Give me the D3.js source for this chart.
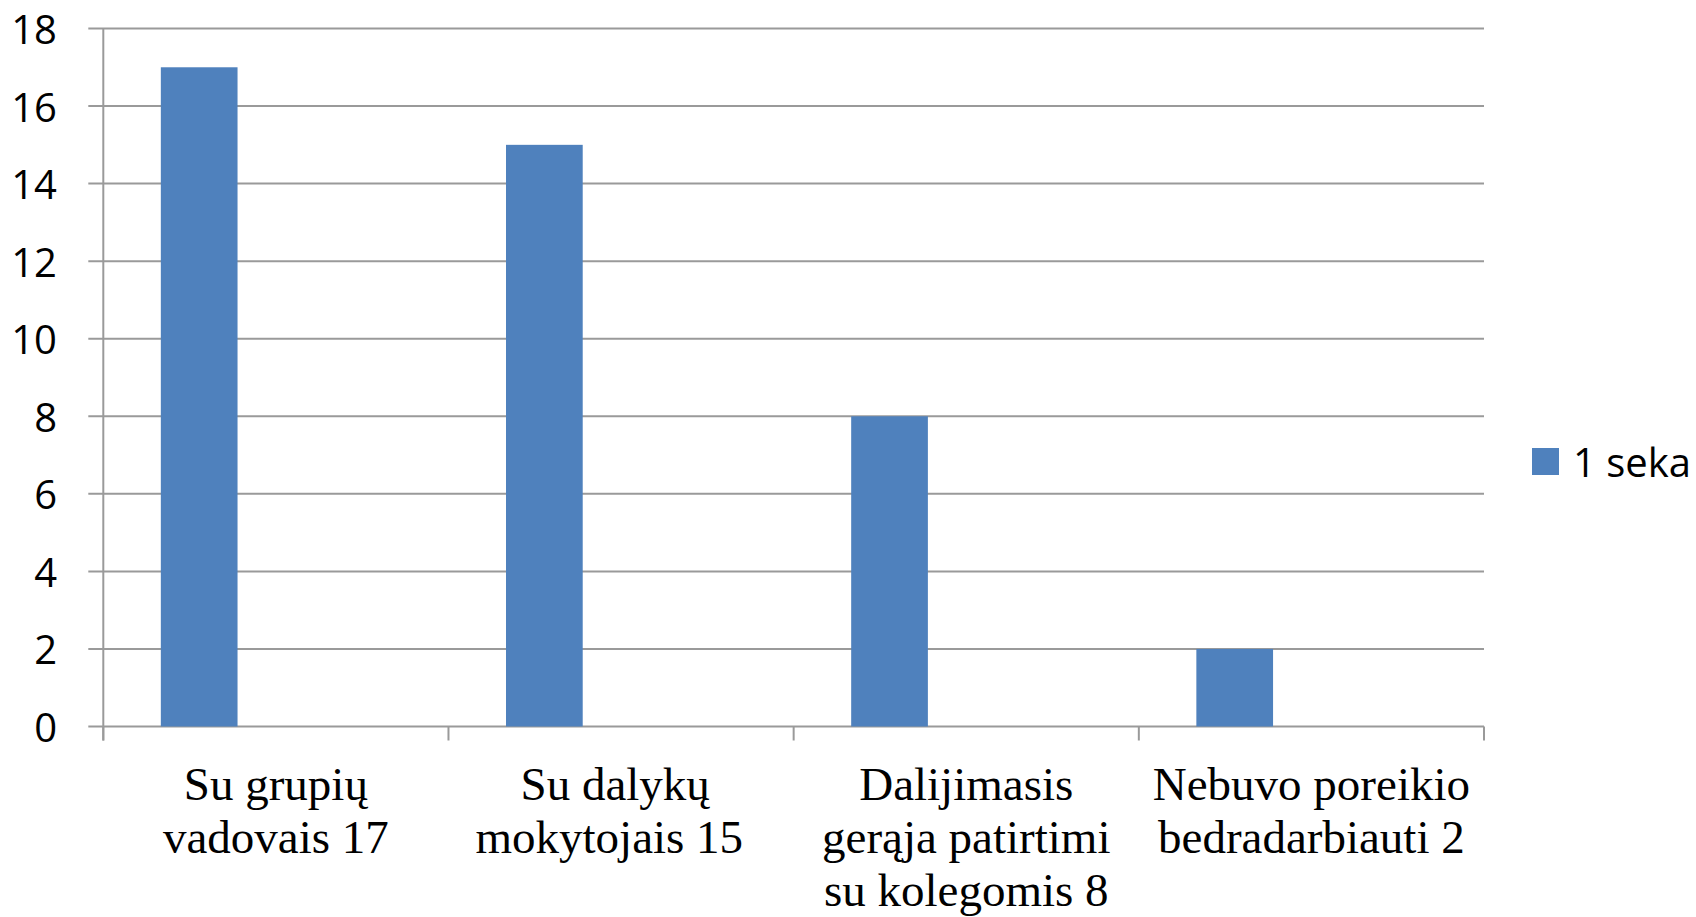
<!DOCTYPE html>
<html>
<head>
<meta charset="utf-8">
<script src="https://cdn.jsdelivr.net/npm/d3@7"></script>
<style>
html,body{margin:0;padding:0;background:#fff;overflow:hidden;}
svg{display:block;}
text{white-space:pre;}
</style>
</head>
<body>
<script>
const categories = [
  ["Su grupių", "vadovais 17"],
  ["Su dalykų ", "mokytojais 15  "],
  ["Dalijimasis", "gerąja patirtimi", "su kolegomis 8"],
  ["Nebuvo poreikio", "bedradarbiauti 2"]
];
const seriesName = "1 seka";
const values = [17, 15, 8, 2];
const yTicks = [0, 2, 4, 6, 8, 10, 12, 14, 16, 18];

(function () {
const W = 1696, H = 917;
const pLeft = 103.3, pRight = 1484, pTop = 28.5, pBottom = 726.5;
const barColor = "#4F81BD", gridColor = "#9A9A9A";

const svg = d3.select("body").append("svg").attr("width", W).attr("height", H);

const x = d3.scaleBand().domain(d3.range(categories.length)).range([pLeft, pRight]).padding(0);
// Excel cluster: 3 slots, gap width 150% -> bar width = band / 4.5
const slot = d3.scaleBand().domain([0, 1, 2]).range([0, x.bandwidth()]).paddingInner(0).paddingOuter(0.75);
const y = d3.scaleLinear().domain([0, 18]).range([pBottom, pTop]);

svg.append("g").selectAll("line").data(yTicks).join("line")
  .attr("x1", pLeft - 15).attr("x2", pRight)
  .attr("y1", d => y(d)).attr("y2", d => y(d))
  .attr("stroke", gridColor).attr("stroke-width", 2);

svg.append("line").attr("x1", pLeft).attr("x2", pLeft).attr("y1", pTop).attr("y2", pBottom + 14)
  .attr("stroke", gridColor).attr("stroke-width", 2);

svg.append("g").selectAll("line").data(d3.range(categories.length + 1)).join("line")
  .attr("x1", d => pLeft + d * x.bandwidth()).attr("x2", d => pLeft + d * x.bandwidth())
  .attr("y1", pBottom).attr("y2", pBottom + 14)
  .attr("stroke", gridColor).attr("stroke-width", 2);

svg.append("g").selectAll("rect").data(values).join("rect")
  .attr("x", (d, i) => x(i) + slot(0))
  .attr("width", slot.bandwidth())
  .attr("y", d => y(d))
  .attr("height", d => y(0) - y(d))
  .attr("fill", barColor);

svg.append("g").selectAll("text").data(yTicks).join("text")
  .attr("x", 57).attr("y", d => y(d))
  .attr("text-anchor", "end").attr("dominant-baseline", "central")
  .attr("font-family", "'Open Sans', sans-serif").attr("font-size", 40)
  .attr("fill", "#000").text(d => d);

const xl = svg.append("g").selectAll("text").data(categories).join("text")
  .attr("text-anchor", "middle")
  .attr("xml:space", "preserve")
  .attr("font-family", "'Liberation Serif', 'Times New Roman', serif").attr("font-size", 47)
  .attr("fill", "#000");
xl.each(function(lines, i) {
  d3.select(this).selectAll("tspan").data(lines).join("tspan")
    .attr("x", x(i) + x.bandwidth() / 2)
    .attr("y", (d, j) => 800 + j * 53)
    .text(d => d);
});

svg.append("rect").attr("x", 1532).attr("y", 448).attr("width", 27).attr("height", 27).attr("fill", barColor);
svg.append("text").attr("x", 1573).attr("y", 461.5).attr("dominant-baseline", "central")
  .attr("font-family", "'Open Sans', sans-serif").attr("font-size", 40).attr("fill", "#000")
  .text(seriesName);
})();
</script>
</body>
</html>
